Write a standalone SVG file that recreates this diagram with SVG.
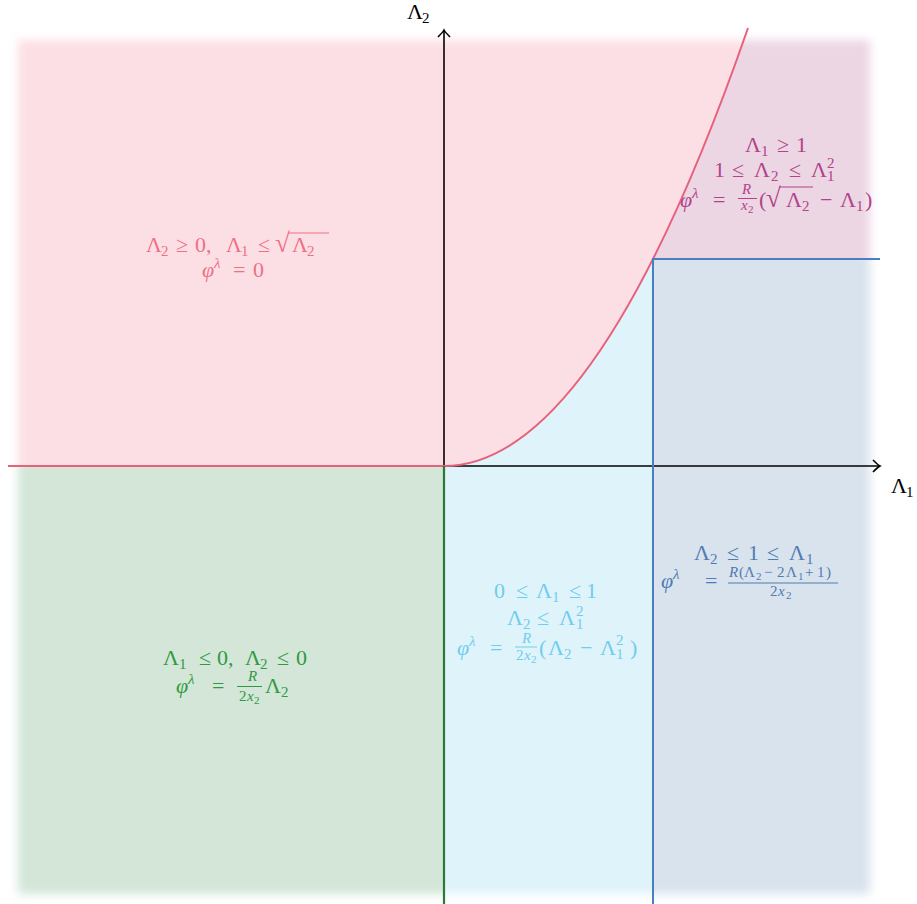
<svg xmlns="http://www.w3.org/2000/svg" width="917" height="904" viewBox="0 0 917 904">
<style>
.m{font-family:"Liberation Serif","DejaVu Serif",serif;font-size:22px}
.i{font-style:italic}
.s{font-size:15px}
.t{font-size:11px}
.rt{font-size:27px}
.pk{fill:#ef6f84}
.pu{fill:#b2428a}
.bl{fill:#4f7cb4}
.cy{fill:#6fcdee}
.gr{fill:#2f9a3f}
</style>
<defs>
<filter id="blur" x="-5%" y="-5%" width="110%" height="110%"><feGaussianBlur stdDeviation="5"/></filter>
<mask id="fade" maskUnits="userSpaceOnUse" x="0" y="0" width="917" height="904">
<rect x="18" y="40" width="852" height="854" fill="#fff" filter="url(#blur)"/>
</mask>
<marker id="arr" markerUnits="userSpaceOnUse" markerWidth="14" markerHeight="14" refX="0" refY="0" viewBox="-8 -7 10 14" orient="auto" overflow="visible">
<path d="M-7,-6 Q-2,-1 0,0 Q-2,1 -7,6" fill="none" stroke="#000" stroke-width="1.6"/>
</marker>
</defs>
<g id="regions" mask="url(#fade)">
<path id="r-pink" d="M0,0 L748,0 L748,28 Q596,466 444,466 L0,466 Z" fill="#fcdfe4"/>
<path id="r-purple" d="M653,259 Q700.5,164.9 748,28 L748,0 L917,0 L917,259 Z" fill="#ecd6e4"/>
<path id="r-cyan" d="M444,466 Q548.5,466 653,259 L653,904 L444,904 Z" fill="#dff3fa"/>
<rect id="r-blue" x="653" y="259" width="264" height="645" fill="#d9e3ed"/>
<rect id="r-green" x="0" y="466" width="444" height="438" fill="#d3e6d8"/>
</g>
<g id="connectors" fill="none">
<line x1="444" y1="466" x2="880" y2="466" stroke="#000" stroke-width="1.6" marker-end="url(#arr)"/>
<line x1="444" y1="466" x2="444" y2="30" stroke="#000" stroke-width="1.6" marker-end="url(#arr)"/>
<path d="M8,466 L444,466 Q596,466 748,28" stroke="#e8617a" stroke-width="2"/>
<line x1="444" y1="466" x2="444" y2="904" stroke="#2a7a35" stroke-width="2.2"/>
<path d="M653,904 L653,259 L880,259" stroke="#4a7ec0" stroke-width="2"/>
</g>
<g id="axis-labels" class="m" fill="#000">
<text y="19"><tspan x="407">Λ</tspan><tspan x="422" y="23" class="s">2</tspan></text>
<text y="493"><tspan x="891">Λ</tspan><tspan x="906" y="497" class="s">1</tspan></text>
</g>
<g id="node-pink" class="m pk">
<text y="252"><tspan x="146">Λ</tspan><tspan x="161" y="256" class="s">2</tspan><tspan x="176" y="252">≥</tspan><tspan x="195">0,</tspan><tspan x="226">Λ</tspan><tspan x="241" y="256" class="s">1</tspan><tspan x="258" y="252">≤</tspan><tspan x="275" class="rt">√</tspan><tspan x="292">Λ</tspan><tspan x="307" y="256" class="s">2</tspan></text>
<line x1="288" y1="233" x2="329" y2="233" stroke="#ef6f84" stroke-width="1"/>
<text y="277"><tspan x="202" class="i">φ</tspan><tspan x="214" y="268" class="s i">λ</tspan><tspan x="233" y="277">=</tspan><tspan x="253">0</tspan></text>
</g>
<g id="node-purple" class="m pu">
<text y="152"><tspan x="745">Λ</tspan><tspan x="761" y="156" class="s">1</tspan><tspan x="777" y="152">≥</tspan><tspan x="796">1</tspan></text>
<text y="177"><tspan x="714">1</tspan><tspan x="732">≤</tspan><tspan x="754">Λ</tspan><tspan x="771" y="181" class="s">2</tspan><tspan x="789" y="177">≤</tspan><tspan x="811">Λ</tspan><tspan x="827" y="181" class="s">1</tspan><tspan x="827" y="168" class="s">2</tspan></text>
<text y="207"><tspan x="680" class="i">φ</tspan><tspan x="692" y="198" class="s i">λ</tspan><tspan x="713" y="207">=</tspan><tspan x="742" y="194" class="s i">R</tspan><tspan x="741" y="210" class="s i">x</tspan><tspan x="748" y="213" class="t">2</tspan><tspan x="759" y="207">(</tspan><tspan x="766" class="rt">√</tspan><tspan x="786">Λ</tspan><tspan x="802" y="211" class="s">2</tspan><tspan x="820" y="207">−</tspan><tspan x="840">Λ</tspan><tspan x="856" y="211" class="s">1</tspan><tspan x="865" y="207">)</tspan></text>
<line x1="738" y1="198.5" x2="757" y2="198.5" stroke="#b2428a" stroke-width="1"/>
<line x1="779" y1="187" x2="813" y2="187" stroke="#b2428a" stroke-width="1"/>
</g>
<g id="node-blue" class="m bl">
<text y="560"><tspan x="694">Λ</tspan><tspan x="710" y="564" class="s">2</tspan><tspan x="727" y="560">≤</tspan><tspan x="748">1</tspan><tspan x="767">≤</tspan><tspan x="789">Λ</tspan><tspan x="806" y="564" class="s">1</tspan></text>
<text y="588"><tspan x="661" class="i">φ</tspan><tspan x="673" y="579" class="s i">λ</tspan><tspan x="705" y="588">=</tspan><tspan x="729" y="577" class="s i">R</tspan><tspan x="739" class="s">(</tspan><tspan x="744" class="s">Λ</tspan><tspan x="756" y="580" class="t">2</tspan><tspan x="764" y="577" class="s">−</tspan><tspan x="777" class="s">2</tspan><tspan x="786" class="s">Λ</tspan><tspan x="798" y="580" class="t">1</tspan><tspan x="805" y="577" class="s">+</tspan><tspan x="817" class="s">1</tspan><tspan x="826" class="s">)</tspan><tspan x="770" y="596" class="s">2</tspan><tspan x="778" class="s i">x</tspan><tspan x="786" y="599" class="t">2</tspan></text>
<line x1="728" y1="583" x2="838" y2="583" stroke="#4f7cb4" stroke-width="1"/>
</g>
<g id="node-cyan" class="m cy">
<text y="598"><tspan x="494">0</tspan><tspan x="516">≤</tspan><tspan x="536">Λ</tspan><tspan x="552" y="602" class="s">1</tspan><tspan x="569" y="598">≤</tspan><tspan x="586">1</tspan></text>
<text y="625"><tspan x="507">Λ</tspan><tspan x="523" y="629" class="s">2</tspan><tspan x="537" y="625">≤</tspan><tspan x="559">Λ</tspan><tspan x="576" y="629" class="s">1</tspan><tspan x="576" y="616" class="s">2</tspan></text>
<text y="655"><tspan x="457" class="i">φ</tspan><tspan x="469" y="646" class="s i">λ</tspan><tspan x="490" y="655">=</tspan><tspan x="522" y="643" class="s i">R</tspan><tspan x="516" y="660" class="s">2</tspan><tspan x="524" class="s i">x</tspan><tspan x="531" y="663" class="t">2</tspan><tspan x="539" y="655">(</tspan><tspan x="548">Λ</tspan><tspan x="564" y="659" class="s">2</tspan><tspan x="580" y="655">−</tspan><tspan x="600">Λ</tspan><tspan x="616" y="659" class="s">1</tspan><tspan x="616" y="645" class="s">2</tspan><tspan x="630" y="655">)</tspan></text>
<line x1="515" y1="647" x2="537" y2="647" stroke="#6fcdee" stroke-width="1"/>
</g>
<g id="node-green" class="m gr">
<text y="665"><tspan x="163">Λ</tspan><tspan x="179" y="669" class="s">1</tspan><tspan x="199" y="665">≤</tspan><tspan x="217">0,</tspan><tspan x="245">Λ</tspan><tspan x="260" y="669" class="s">2</tspan><tspan x="277" y="665">≤</tspan><tspan x="296">0</tspan></text>
<text y="693"><tspan x="176" class="i">φ</tspan><tspan x="188" y="684" class="s i">λ</tspan><tspan x="212" y="693">=</tspan><tspan x="248" y="681" class="s i">R</tspan><tspan x="239" y="701" class="s">2</tspan><tspan x="247" class="s i">x</tspan><tspan x="254" y="704" class="t">2</tspan><tspan x="265" y="693">Λ</tspan><tspan x="281" y="697" class="s">2</tspan></text>
<line x1="237" y1="686.5" x2="262" y2="686.5" stroke="#2f9a3f" stroke-width="1"/>
</g>
</svg>
